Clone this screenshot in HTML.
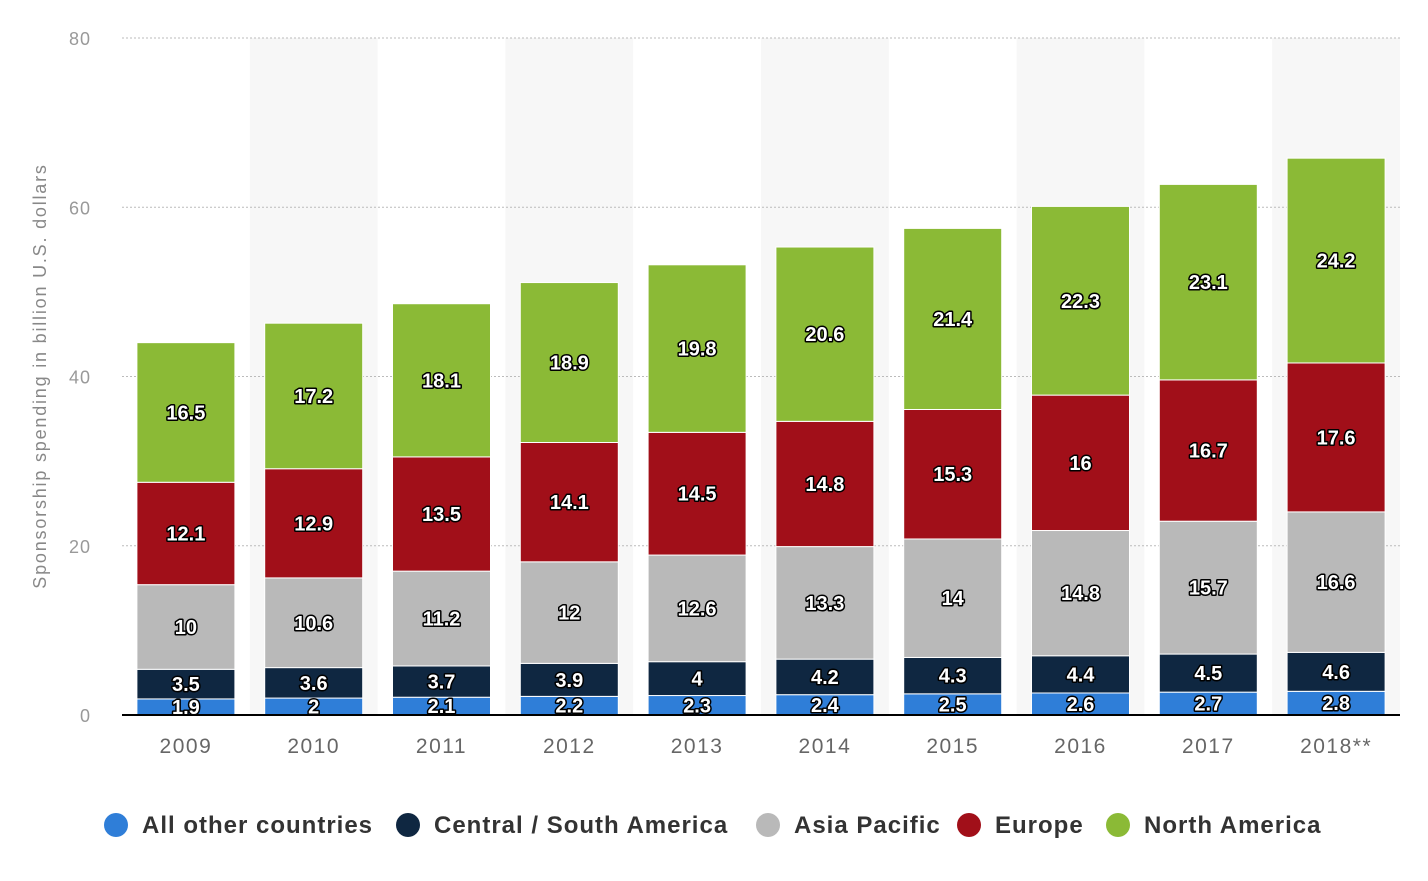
<!DOCTYPE html>
<html><head><meta charset="utf-8">
<style>
body{margin:0;background:#fff;width:1428px;height:876px;overflow:hidden;font-family:"Liberation Sans",sans-serif}
svg text{font-family:"Liberation Sans",sans-serif}
.lbl{font-size:20px;font-weight:bold;fill:#fff;stroke:#000;stroke-width:3px;paint-order:stroke;stroke-linejoin:round}
</style></head><body>
<svg id="chart" width="1428" height="876" xmlns="http://www.w3.org/2000/svg">
<g id="bands"></g><g id="grid"></g><g id="bars"></g><g id="labels"></g><g id="axes"></g>
<text transform="translate(46,376) rotate(-90)" text-anchor="middle" font-size="18" letter-spacing="1.8" fill="#888">Sponsorship spending in billion U.S. dollars</text>
<g id="legend"></g>
</svg>
<script>
const categories=["2009","2010","2011","2012","2013","2014","2015","2016","2017","2018**"];
const allOther=[1.9,2,2.1,2.2,2.3,2.4,2.5,2.6,2.7,2.8];
const centralSouth=[3.5,3.6,3.7,3.9,4,4.2,4.3,4.4,4.5,4.6];
const asiaPacific=[10,10.6,11.2,12,12.6,13.3,14,14.8,15.7,16.6];
const europe=[12.1,12.9,13.5,14.1,14.5,14.8,15.3,16,16.7,17.6];
const northAmerica=[16.5,17.2,18.1,18.9,19.8,20.6,21.4,22.3,23.1,24.2];
const yTicks=[0,20,40,60,80];
const seriesNames=["All other countries","Central / South America","Asia Pacific","Europe","North America"];
const series=[allOther,centralSouth,asiaPacific,europe,northAmerica];
const colors=["#2f7ed8","#0f2741","#b9b9b9","#a10f19","#8bba36"];
const NS="http://www.w3.org/2000/svg";
const x0=122,x1=1400,y0=715,yTop=38,yMax=80;
const step=(x1-x0)/categories.length,bw=98;
const y=v=>y0-(v/yMax)*(y0-yTop);
const xc=i=>x0+step*(i+0.5);
function mk(tag,attrs,parent){const e=document.createElementNS(NS,tag);for(const k in attrs)e.setAttribute(k,attrs[k]);parent.appendChild(e);return e;}
const bands=document.getElementById('bands'),grid=document.getElementById('grid'),bars=document.getElementById('bars'),labels=document.getElementById('labels'),axes=document.getElementById('axes'),legend=document.getElementById('legend');
categories.forEach((c,i)=>{if(i%2==1){const r=mk('rect',{x:x0+step*i,y:yTop,width:step,height:y0-yTop,fill:'#f7f7f7'},bands);

}});
yTicks.forEach(t=>{if(t>0){const l=mk('line',{x1:x0,x2:x1,y1:y(t),y2:y(t),stroke:'#bbb','stroke-dasharray':'2,2'},grid);

}
const tx=mk('text',{x:91,y:y(t)+7,'text-anchor':'end','font-size':'18','letter-spacing':'1',fill:'#999'},axes);tx.textContent=t;

});
categories.forEach((c,i)=>{let cum=0;
series.forEach((s,k)=>{const v=s[i];const top=y(cum+v),bot=y(cum);
const r=mk('rect',{x:xc(i)-bw/2,y:top,width:bw,height:bot-top,fill:colors[k],stroke:'#fff','stroke-width':1},bars);


const t=mk('text',{x:xc(i),y:(top+bot)/2+7,'text-anchor':'middle',class:'lbl'},labels);t.textContent=v;


cum+=v;});
const xl=mk('text',{x:xc(i),y:753,'text-anchor':'middle','font-size':'21','letter-spacing':'1.5',fill:'#666'},axes);xl.textContent=c;

});
const base=mk('line',{x1:x0,x2:x1,y1:y0,y2:y0,stroke:'#000','stroke-width':2},axes);


const lx=[116,408,768,969,1118];
seriesNames.forEach((n,k)=>{const g=mk('g',{},legend);


mk('circle',{cx:lx[k],cy:825,r:12,fill:colors[k]},g);
const t=mk('text',{x:lx[k]+26,y:833,'font-size':'24','font-weight':'bold','letter-spacing':'1',fill:'#333'},g);t.textContent=n;});
</script>
</body></html>
